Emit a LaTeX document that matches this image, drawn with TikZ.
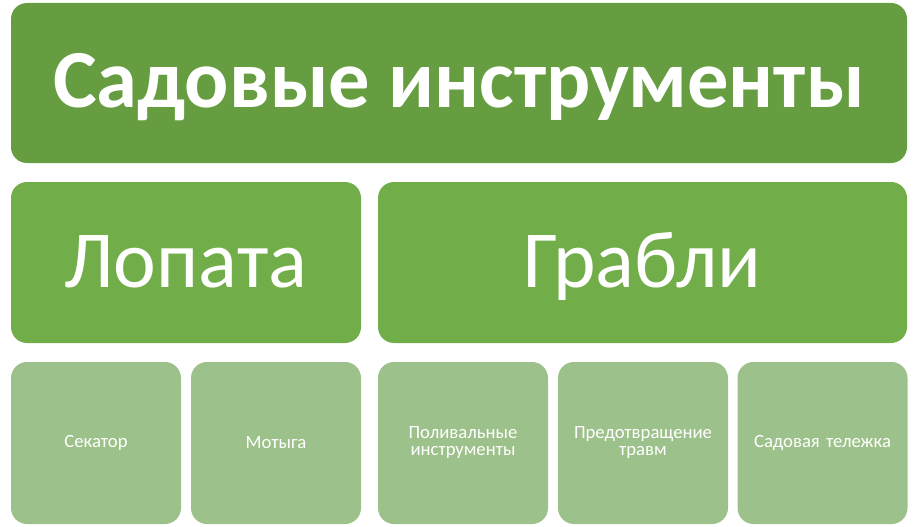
\documentclass[tikz,border=0pt]{standalone}
\usepackage{fontspec}
\setmainfont{Carlito}

\definecolor{topgreen}{RGB}{102,157,64}
\definecolor{midgreen}{RGB}{113,173,73}
\definecolor{leafgreen}{RGB}{157,193,138}

\begin{document}
\begin{tikzpicture}[x=1pt,y=-1pt,
        box/.style={rounded corners=16pt, inner sep=0pt, outer sep=0pt,
            text=white, align=center},
        tbox/.style={box, fill=topgreen, minimum width=896pt, minimum height=160pt,
            text height=62pt, text depth=14pt,
            font=\fontsize{82.5}{90}\selectfont\bfseries},
        midbox/.style={box, fill=midgreen, minimum height=161pt,
            text height=62pt, text depth=13pt,
            font=\fontsize{81}{86}\selectfont},
        leafbox/.style={box, fill=leafgreen, minimum width=170pt, minimum height=162pt,
            text width=160pt, font=\fontsize{18.7}{17}\selectfont}]
        \useasboundingbox (0,0) rectangle (919,527);
        \node[tbox] (title) at (459,83) {Садовые инструменты};
        \node[midbox, minimum width=350pt] (lopata) at (186,262.5) {Лопата};
        \node[midbox, minimum width=529pt] (grabli) at (642.5,262.5) {Грабли};
        \foreach \x/\n/\t in {96/sekator/Секатор,
                              276/motyga/Мотыга,
                              463/poliv/Поливальные\\инструменты,
                              643/travm/Предотвращение\\травм,
                              822.5/telega/Садовая тележка} {
            \node[leafbox] (\n) at (\x,443) {\t};
        }
        \end{tikzpicture}
\end{document}
